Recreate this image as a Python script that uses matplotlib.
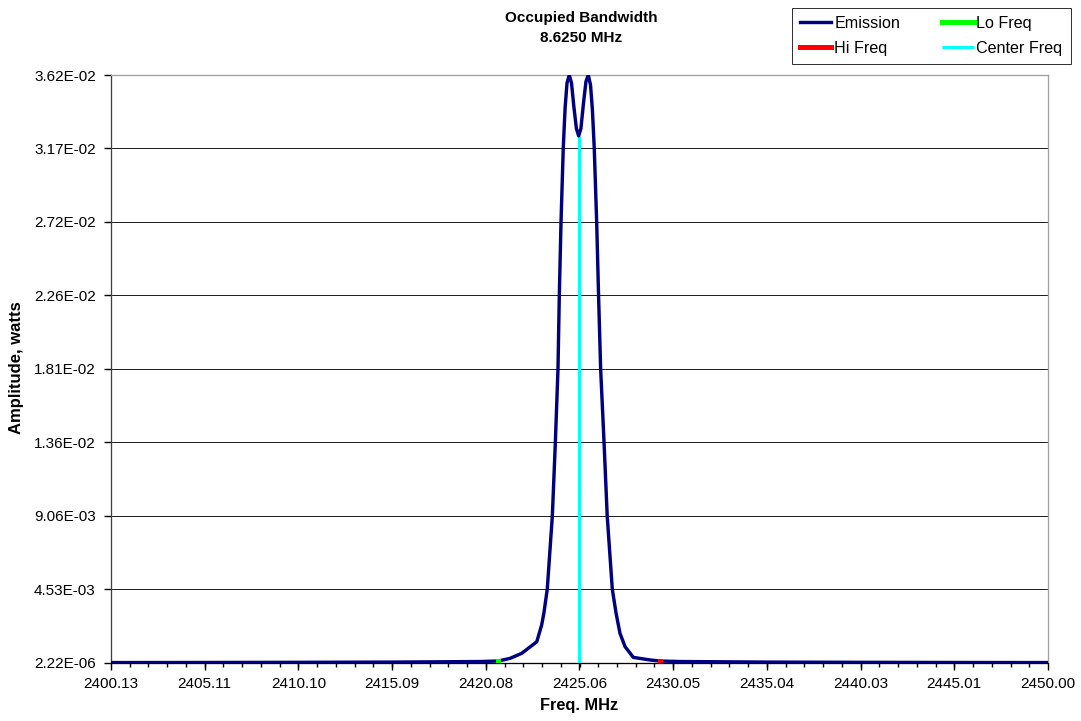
import matplotlib
matplotlib.use("Agg")
import matplotlib.pyplot as plt
from matplotlib.ticker import FixedLocator

plt.rcParams['font.family'] = ['Liberation Sans', 'DejaVu Sans']

# ---- data ----
freq = [2400.13, 2405.11, 2410.10, 2415.09, 2418.00, 2419.77, 2420.74, 2421.37,
        2421.99, 2422.79, 2423.05, 2423.17, 2423.35, 2423.62, 2423.78, 2423.92,
        2423.99, 2424.08, 2424.20, 2424.30, 2424.40, 2424.52, 2424.64, 2424.76,
        2424.90, 2425.02, 2425.14, 2425.28, 2425.41, 2425.53, 2425.65, 2425.75,
        2425.85, 2425.98, 2426.08, 2426.19, 2426.37, 2426.54, 2426.81, 2427.01,
        2427.22, 2427.49, 2427.93, 2428.82, 2429.35, 2430.41, 2435.04, 2440.03,
        2445.01, 2450.00]
amplitude = [1.0e-5, 1.5e-5, 2.5e-5, 4.0e-5, 6.0e-5, 7.4e-5, 1.05e-4, 2.7e-4,
             5.8e-4, 1.29e-3, 2.32e-3, 3.06e-3, 4.54e-3, 9.06e-3, 1.358e-2, 1.81e-2,
             2.26e-2, 2.71e-2, 3.17e-2, 3.42e-2, 3.57e-2, 3.62e-2, 3.57e-2, 3.43e-2,
             3.29e-2, 3.245e-2, 3.29e-2, 3.45e-2, 3.58e-2, 3.62e-2, 3.56e-2, 3.41e-2,
             3.17e-2, 2.71e-2, 2.26e-2, 1.81e-2, 1.36e-2, 9.04e-3, 4.54e-3, 3.06e-3,
             1.81e-3, 9.9e-4, 3.3e-4, 1.7e-4, 1.05e-4, 7.4e-5, 4.0e-5, 2.5e-5,
             1.5e-5, 1.0e-5]

lo_freq = [2420.74, 2420.74]
lo_amp = [2.22e-6, 1.05e-4]
hi_freq = [2429.35, 2429.35]
hi_amp = [2.22e-6, 1.05e-4]
center_freq = [2425.04, 2425.04]
center_amp = [2.22e-6, 3.245e-2]

x_ticks = [2400.13, 2405.11, 2410.10, 2415.09, 2420.08, 2425.06, 2430.05,
           2435.04, 2440.03, 2445.01, 2450.00]
x_tick_labels = ["2400.13", "2405.11", "2410.10", "2415.09", "2420.08", "2425.06",
                 "2430.05", "2435.04", "2440.03", "2445.01", "2450.00"]
y_ticks = [2.22e-6, 4.527e-3, 9.052e-3, 1.3577e-2, 1.8102e-2, 2.2626e-2,
           2.7151e-2, 3.1676e-2, 3.62e-2]
y_tick_labels = ["2.22E-06", "4.53E-03", "9.06E-03", "1.36E-02", "1.81E-02",
                 "2.26E-02", "2.72E-02", "3.17E-02", "3.62E-02"]

title_text = "Occupied Bandwidth\n8.6250 MHz"
x_label = "Freq. MHz"
y_label = "Amplitude, watts"

# ---- figure ----
fig = plt.figure(figsize=(10.81, 7.21), dpi=100)
ax = fig.add_axes([111/1081, 1-662.7/721, 937/1081, (662.7-75)/721])

px = 72/100.0
ax.plot(center_freq, center_amp, color='#00FFFF', lw=3*px, solid_capstyle='butt',
        label='Center Freq', zorder=3)
ax.plot(freq, amplitude, color='#000080', lw=3.4*px, label='Emission', zorder=4,
        solid_joinstyle='round')
ax.plot(lo_freq, lo_amp, color='#00FF00', lw=5*px, solid_capstyle='projecting',
        label='Lo Freq', zorder=5)
ax.plot(hi_freq, hi_amp, color='#FF0000', lw=5*px, solid_capstyle='projecting',
        label='Hi Freq', zorder=5)

ax.set_xlim(2400.13, 2450.00)
ax.set_ylim(2.22e-6, 3.62e-2)
ax.xaxis.set_major_locator(FixedLocator(x_ticks))
ax.set_xticklabels(x_tick_labels)
ax.xaxis.set_minor_locator(FixedLocator(
    [2400.13 + i*4.987/5 for i in range(51)]))
ax.yaxis.set_major_locator(FixedLocator(y_ticks))
ax.set_yticklabels(y_tick_labels)

ax.tick_params(axis='both', which='major', labelsize=11, direction='out',
               length=5, width=1, colors='black')
ax.tick_params(axis='x', which='major', pad=5)
ax.tick_params(axis='y', which='major', pad=6)
ax.tick_params(axis='x', which='minor', direction='out', length=3, width=1,
               color='black')

for y in y_ticks[1:-1]:
    ax.axhline(y, color='#222222', lw=1*px, zorder=1)

ax.spines['top'].set_color('#A0A0A0')
ax.spines['right'].set_color('#A0A0A0')
ax.spines['left'].set_color('#404040')
ax.spines['bottom'].set_color('black')
for s in ax.spines.values():
    s.set_linewidth(1.3*px)

ax.set_xlabel(x_label, fontsize=11.8, fontweight='bold', labelpad=5)
ax.set_ylabel(y_label, fontsize=12, fontweight='bold')
ax.yaxis.set_label_coords(17/1081, 1-368/721, transform=fig.transFigure)
ax.yaxis.label.set_va('center')

fig.text(581/1081, 1-28/721, title_text, ha='center', va='center',
         fontsize=11, fontweight='bold', linespacing=1.55)

h, l = ax.get_legend_handles_labels()
order = [l.index('Emission'), l.index('Hi Freq'), l.index('Lo Freq'),
         l.index('Center Freq')]
leg = fig.legend([h[i] for i in order], [l[i] for i in order], ncol=2,
                 loc='upper left', bbox_to_anchor=(792/1081, 1-8/721),
                 borderaxespad=0, fontsize=11.6, frameon=True, fancybox=False,
                 handlelength=1.95, handletextpad=0.18, columnspacing=2.6,
                 labelspacing=0.6, borderpad=0.5)
leg.get_frame().set_edgecolor('black')
leg.get_frame().set_linewidth(1*px)

fig.savefig('out.png', dpi=100)
